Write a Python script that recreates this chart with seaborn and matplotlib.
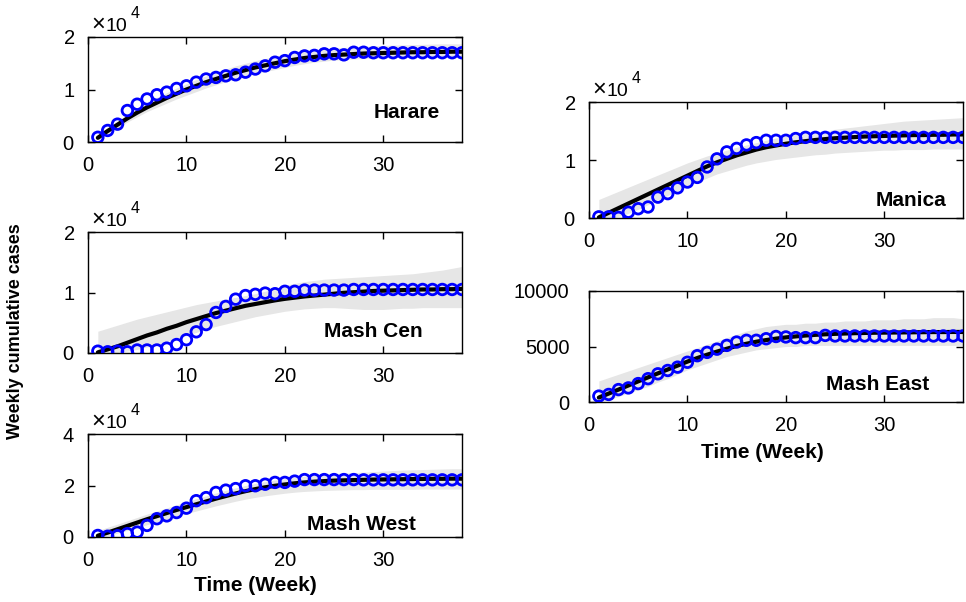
import matplotlib
matplotlib.use("Agg")
import matplotlib.pyplot as plt
from matplotlib.ticker import ScalarFormatter
import seaborn as sns
import pandas as pd

weeks = list(range(1, 39))

# ---------------- Harare ----------------
harare_obs = [900, 2200, 3400, 6000, 7200, 8200, 9000, 9500, 10200, 10700, 11400, 12000, 12300, 12600, 12800,
              13300, 13900, 14500, 15200, 15500, 16100, 16400, 16500, 16800, 16800, 16600, 17100, 17100, 17000,
              17000, 17000, 17000, 17000, 17000, 17000, 17000, 17000, 17000]
harare_fit = [800, 2100, 3300, 4500, 5600, 6600, 7500, 8400, 9200, 10000, 10700, 11400, 12000, 12600, 13200,
              13700, 14200, 14600, 15000, 15400, 15700, 16000, 16200, 16400, 16550, 16650, 16750, 16850, 16900,
              16950, 17000, 17050, 17100, 17100, 17150, 17150, 17200, 17200]
harare_hi = [1300, 2700, 4000, 5300, 6400, 7500, 8500, 9400, 10300, 11100, 11900, 12600, 13300, 13900, 14500,
             15000, 15500, 15900, 16300, 16700, 17000, 17300, 17500, 17700, 17900, 18000, 18100, 18200, 18300,
             18400, 18450, 18500, 18550, 18600, 18650, 18700, 18700, 18700]
harare_lo = [400, 1600, 2700, 3800, 4800, 5800, 6600, 7400, 8200, 8900, 9600, 10300, 10900, 11500, 12000,
             12500, 13000, 13400, 13800, 14200, 14600, 14900, 15200, 15400, 15600, 15700, 15800, 15900, 16000,
             16000, 16100, 16100, 16100, 16200, 16200, 16200, 16200, 16200]

# ---------------- Mash Cen ----------------
mcen_obs = [300, 200, 300, 200, 500, 500, 500, 800, 1400, 2200, 3500, 4700, 6700, 7700, 8900, 9500, 9700, 9900,
            9800, 10200, 10200, 10400, 10400, 10400, 10400, 10400, 10500, 10500, 10500, 10500, 10500, 10500,
            10500, 10500, 10500, 10500, 10500, 10500]
mcen_fit = [100, 600, 1100, 1700, 2300, 2900, 3400, 4000, 4500, 5100, 5600, 6100, 6600, 7000, 7400, 7800, 8100,
            8400, 8700, 8950, 9150, 9350, 9500, 9650, 9800, 9950, 10050, 10150, 10250, 10300, 10350, 10400,
            10450, 10500, 10500, 10550, 10550, 10600]
mcen_hi = [3600, 4100, 4600, 5100, 5600, 6000, 6400, 6800, 7200, 7600, 8000, 8300, 8600, 8900, 9200, 9500, 9800,
           10200, 10700, 11200, 11500, 11800, 12000, 12200, 12300, 12400, 12500, 12600, 12700, 12800, 12900,
           13000, 13100, 13300, 13500, 13700, 14000, 14300]
mcen_lo = [0, 0, 100, 300, 600, 1000, 1400, 1900, 2400, 2900, 3400, 3900, 4400, 4800, 5200, 5600, 6000, 6300,
           6600, 6900, 7100, 7300, 7400, 7500, 7500, 7400, 7300, 7200, 7200, 7200, 7300, 7400, 7400, 7500, 7500,
           7500, 7500, 7500]

# ---------------- Mash West ----------------
mwest_obs = [600, 300, 500, 1300, 1900, 4500, 7100, 8200, 9500, 11200, 14100, 15300, 17300, 18200, 18800, 19900,
             19900, 20500, 21200, 21200, 21700, 22300, 22300, 22300, 22300, 22300, 22300, 22200, 22200, 22200,
             22200, 22200, 22200, 22200, 22200, 22200, 22200, 22200]
mwest_fit = [500, 1700, 3000, 4300, 5600, 6900, 8100, 9300, 10500, 11600, 12700, 13800, 14900, 15900, 16900,
             17800, 18600, 19300, 19900, 20400, 20850, 21200, 21500, 21700, 21900, 22000, 22100, 22200, 22300,
             22350, 22400, 22450, 22500, 22550, 22600, 22600, 22650, 22650]
mwest_hi = [2500, 3800, 5000, 6300, 7600, 8900, 10100, 11300, 12500, 13700, 14900, 16000, 17100, 18100, 19100,
            20000, 20800, 21500, 22100, 22700, 23200, 23600, 24000, 24300, 24600, 24800, 25000, 25200, 25400,
            25600, 25800, 26000, 26100, 26200, 26300, 26400, 26500, 26500]
mwest_lo = [0, 500, 1500, 2600, 3700, 4800, 5900, 7000, 8100, 9100, 10100, 11100, 12100, 13000, 13900, 14700,
            15400, 16000, 16500, 17000, 17400, 17700, 17900, 18100, 18200, 18300, 18400, 18400, 18500, 18500,
            18500, 18500, 18500, 18600, 18600, 18600, 18600, 18600]

# ---------------- Manica ----------------
manica_obs = [200, 200, 100, 1000, 1600, 1900, 3600, 4200, 5200, 6200, 7000, 8800, 10200, 11400, 12000, 12600,
              13000, 13400, 13400, 13400, 13700, 13900, 13900, 13900, 13900, 13900, 13900, 13900, 13900, 13900,
              13900, 13900, 13900, 13900, 13900, 13900, 13900, 13900]
manica_fit = [100, 900, 1700, 2500, 3300, 4100, 4900, 5700, 6500, 7300, 8100, 8900, 9600, 10200, 10800, 11300,
              11800, 12200, 12500, 12800, 13050, 13250, 13450, 13600, 13750, 13850, 13950, 14050, 14100, 14150,
              14200, 14250, 14300, 14300, 14350, 14350, 14400, 14400]
manica_hi = [3200, 3900, 4600, 5300, 6000, 6700, 7400, 8100, 8800, 9500, 10100, 10700, 11200, 11700, 12200,
             12600, 13000, 13400, 13800, 14100, 14400, 14600, 14800, 15000, 15300, 15500, 15700, 15900, 16100,
             16300, 16500, 16700, 16800, 16900, 17000, 17100, 17200, 17300]
manica_lo = [0, 0, 300, 800, 1500, 2300, 3100, 3900, 4700, 5500, 6200, 6900, 7600, 8100, 8600, 9100, 9500, 9800,
             10100, 10300, 10500, 10700, 10900, 11000, 11200, 11300, 11400, 11500, 11600, 11700, 11700, 11800,
             11800, 11800, 11900, 11900, 11900, 11900]

# ---------------- Mash East ----------------
meast_obs = [530, 680, 1120, 1270, 1660, 2100, 2540, 2840, 3140, 3580, 4170, 4470, 4760, 5100, 5400, 5560, 5560,
             5700, 5900, 5860, 5800, 5800, 5800, 6000, 5950, 5950, 5950, 5950, 5950, 5950, 5950, 5950, 5950,
             5950, 5950, 5950, 5950, 5950]
meast_fit = [400, 760, 1120, 1490, 1860, 2220, 2580, 2930, 3280, 3640, 3960, 4260, 4540, 4800, 5050, 5250, 5430,
             5580, 5710, 5820, 5910, 5990, 6050, 6100, 6140, 6170, 6200, 6220, 6240, 6250, 6260, 6270, 6280,
             6290, 6300, 6300, 6310, 6310]
meast_hi = [1900, 2200, 2500, 2800, 3100, 3400, 3700, 4000, 4300, 4600, 4900, 5200, 5500, 5800, 6100, 6400, 6600,
            6800, 6900, 7000, 7000, 7100, 7100, 7200, 7200, 7300, 7300, 7300, 7400, 7400, 7400, 7500, 7500, 7500,
            7600, 7600, 7600, 7500]
meast_lo = [0, 200, 500, 800, 1100, 1400, 1800, 2100, 2500, 2900, 3200, 3500, 3800, 4100, 4300, 4500, 4700, 4800,
            4900, 5000, 5000, 5100, 5100, 5100, 5100, 5100, 5100, 5100, 5100, 5100, 5100, 5100, 5100, 5100, 5100,
            5100, 5100, 5100]

panel_names = ["Harare", "Mash Cen", "Mash West", "Manica", "Mash East"]
y_ticks = {
    "Harare": [0, 10000, 20000],
    "Mash Cen": [0, 10000, 20000],
    "Mash West": [0, 20000, 40000],
    "Manica": [0, 10000, 20000],
    "Mash East": [0, 5000, 10000],
}
x_ticks = [0, 10, 20, 30]
exponent_text = "4"

panels = {
    "Harare": (harare_obs, harare_fit, harare_lo, harare_hi),
    "Mash Cen": (mcen_obs, mcen_fit, mcen_lo, mcen_hi),
    "Mash West": (mwest_obs, mwest_fit, mwest_lo, mwest_hi),
    "Manica": (manica_obs, manica_fit, manica_lo, manica_hi),
    "Mash East": (meast_obs, meast_fit, meast_lo, meast_hi),
}

W, H = 966, 602
def rect(l, r, t, b):
    return [l / W, 1 - b / H, (r - l) / W, (b - t) / H]

layout = {
    "Harare": rect(88, 462, 37, 142),
    "Mash Cen": rect(88, 462, 232, 353),
    "Mash West": rect(88, 462, 434, 537),
    "Manica": rect(589, 963, 102, 218),
    "Mash East": rect(589, 963, 291, 402),
}
label_pos = {
    "Harare": (0.941, 0.28),
    "Mash Cen": (0.896, 0.174),
    "Mash West": (0.877, 0.117),
    "Manica": (0.955, 0.147),
    "Mash East": (0.909, 0.162),
}
xlabel_pos = {"Mash West": (0.447, -0.375), "Mash East": (0.463, -0.37)}

sns.set_theme(style="white")
plt.rcParams["font.family"] = ["Liberation Sans", "DejaVu Sans"]
plt.rcParams["text.color"] = "black"
plt.rcParams["axes.labelcolor"] = "black"

fig = plt.figure(figsize=(9.66, 6.02), dpi=100)
fig.patch.set_facecolor("white")

for name in panel_names:
    obs, fit, lo, hi = panels[name]
    df = pd.DataFrame({"week": weeks, "obs": obs, "fit": fit, "lo": lo, "hi": hi})
    ax = fig.add_axes(layout[name])
    ax.set_facecolor("white")
    ax.fill_between(df["week"], df["lo"], df["hi"], color="#e6e6e6", lw=0, zorder=1)
    sns.lineplot(data=df, x="week", y="fit", color="black", lw=3, ax=ax, zorder=2)
    sns.scatterplot(data=df, x="week", y="obs", marker="o", s=58, facecolor="none",
                    edgecolor="#0000ff", linewidth=2.0, ax=ax, zorder=3, legend=False)
    ax.set_xlim(0, 38)
    yt = y_ticks[name]
    ax.set_ylim(yt[0], yt[-1])
    ax.set_xticks(x_ticks)
    ax.set_yticks(yt)
    if name != "Mash East":
        fmt = ScalarFormatter(useMathText=True)
        fmt.set_powerlimits((0, 0))
        ax.yaxis.set_major_formatter(fmt)
        ax.yaxis.get_offset_text().set_visible(False)
        ax.annotate("\u00d7", xy=(0, 1), xycoords="axes fraction", xytext=(2.5, 4.5),
                    textcoords="offset points", ha="left", va="baseline", fontsize=17, color="black")
        ax.annotate("10", xy=(0, 1), xycoords="axes fraction", xytext=(12.5, 4.5),
                    textcoords="offset points", ha="left", va="baseline", fontsize=14, color="black")
        ax.annotate(exponent_text, xy=(0, 1), xycoords="axes fraction", xytext=(30.5, 14),
                    textcoords="offset points", ha="left", va="baseline", fontsize=11.5, color="black")
    ax.tick_params(direction="in", top=True, right=True, bottom=True, left=True,
                   length=5, width=1, labelsize=14.5, colors="black")
    ax.tick_params(axis="x", pad=10)
    ax.tick_params(axis="y", pad=14 if name == "Mash East" else 9.5)
    for sp in ax.spines.values():
        sp.set_visible(True)
        sp.set_color("black")
        sp.set_linewidth(1.0)
    ax.set_xlabel("")
    ax.set_ylabel("")
    lx, ly = label_pos[name]
    ax.text(lx, ly, name, transform=ax.transAxes, ha="right", va="center",
            fontsize=15, fontweight="bold", color="black", zorder=4)
    if name in xlabel_pos:
        ax.set_xlabel("Time (Week)", fontsize=15, fontweight="bold", color="black")
        ax.xaxis.set_label_coords(*xlabel_pos[name])

fig.text(0.016, 0.45, "Weekly cumulative cases", rotation=90, ha="center", va="center",
         fontsize=13, fontweight="bold", color="black")

fig.savefig("out.png", dpi=100, facecolor="white")
